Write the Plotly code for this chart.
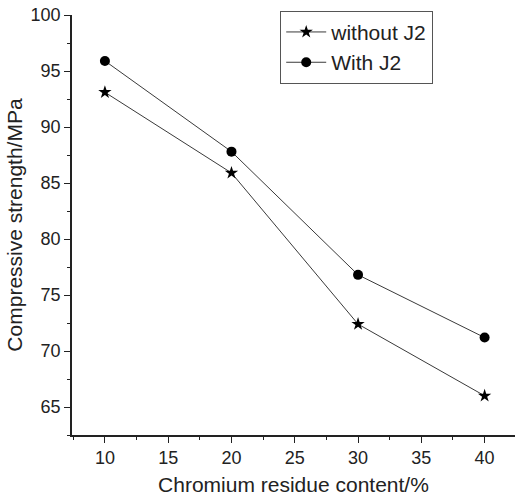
import plotly.graph_objects as go

content = [10, 20, 30, 40]
without_j2 = [93.1, 85.9, 72.4, 66.0]
with_j2 = [95.9, 87.8, 76.8, 71.2]
x_ticks = [10, 15, 20, 25, 30, 35, 40]
y_ticks = [65, 70, 75, 80, 85, 90, 95, 100]

font = "Liberation Sans, Arial, sans-serif"

fig = go.Figure()
fig.add_trace(go.Scatter(
    x=content, y=without_j2, mode="lines+markers", name="without J2",
    line=dict(color="#3a3a3a", width=1),
    marker=dict(symbol="star", size=10, color="black"),
))
fig.add_trace(go.Scatter(
    x=content, y=with_j2, mode="lines+markers", name="With J2",
    line=dict(color="#3a3a3a", width=1),
    marker=dict(symbol="circle", size=10, color="black"),
))

fig.update_layout(
    width=515, height=498,
    margin=dict(l=72, r=0, t=15, b=63),
    plot_bgcolor="white", paper_bgcolor="white",
    font=dict(family=font, size=18, color="#222"),
    showlegend=True,
    legend=dict(
        x=0.47, y=1.01, xanchor="left", yanchor="top",
        bgcolor="white", bordercolor="#555", borderwidth=1,
        font=dict(size=21, family=font, color="#222"),
        itemwidth=40, tracegroupgap=0,
    ),
    xaxis=dict(
        range=[7.4, 42.4], tickvals=x_ticks, ticks="outside", ticklen=6,
        tickwidth=1.2, tickcolor="#222", showline=True, linecolor="#222", linewidth=1.5,
        showgrid=False, zeroline=False,
        minor=dict(dtick=2.5, tick0=7.5, ticks="outside", ticklen=3, tickcolor="#222", tickwidth=1),
        title=dict(text="Chromium residue content/%", font=dict(size=21), standoff=10),
        tickfont=dict(size=18),
    ),
    yaxis=dict(
        range=[62.5, 100], tickvals=y_ticks, ticks="outside", ticklen=6,
        tickwidth=1.2, tickcolor="#222", showline=True, linecolor="#222", linewidth=1.5,
        showgrid=False, zeroline=False,
        minor=dict(dtick=2.5, tick0=62.5, ticks="outside", ticklen=3, tickcolor="#222", tickwidth=1),
        title=dict(text="Compressive strength/MPa", font=dict(size=21), standoff=2),
        tickfont=dict(size=18),
    ),
)

fig.write_html("out.html")
